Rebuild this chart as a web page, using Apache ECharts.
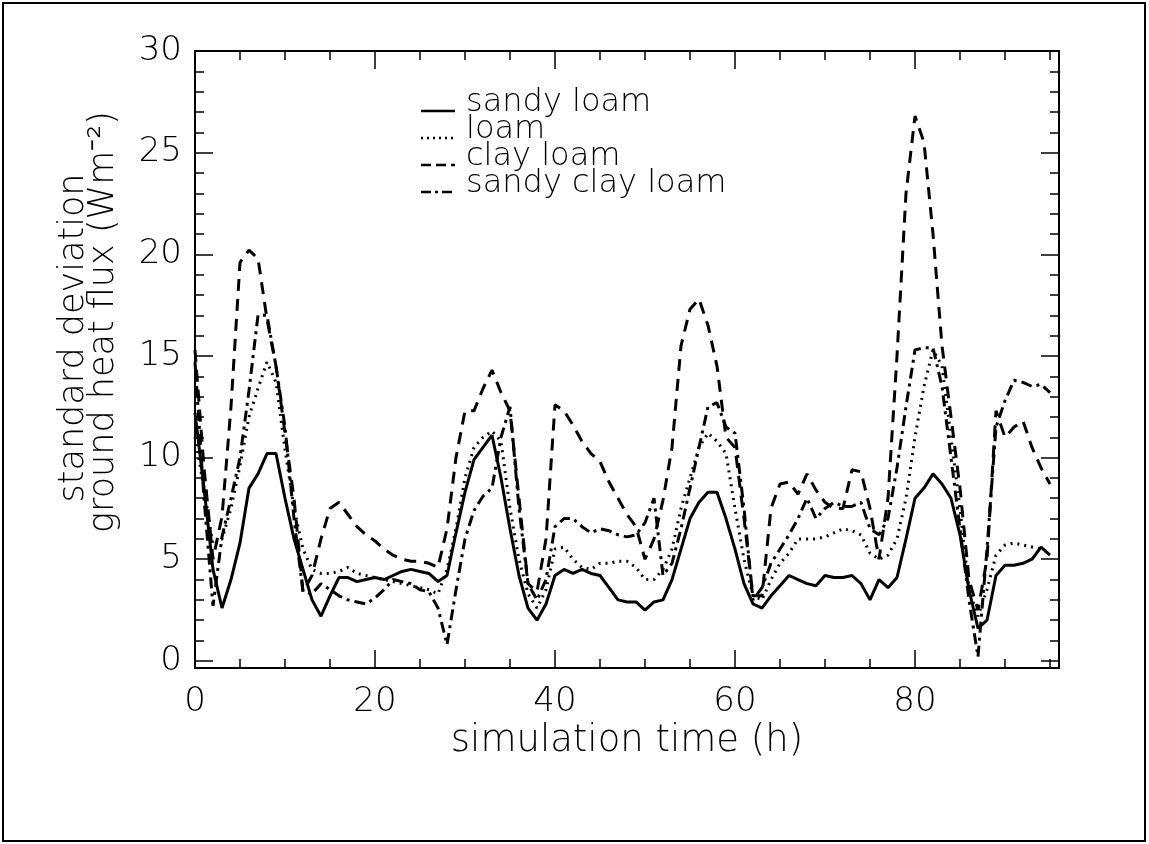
<!DOCTYPE html>
<html>
<head>
<meta charset="utf-8">
<script src="https://cdn.jsdelivr.net/npm/echarts@6/dist/echarts.min.js"></script>
<style>
  html, body { margin: 0; padding: 0; background: #fff; }
  #chart { width: 1149px; height: 844px; }
</style>
</head>
<body>
<div id="chart"></div>
<script>
// simulation time (h)
var hours = [0, 1, 2, 3, 4, 5, 6, 7, 8, 9, 10, 11, 12, 13, 14, 15, 16, 17, 18, 19,
  20, 21, 22, 23, 24, 25, 26, 27, 28, 29, 30, 31, 32, 33, 34, 35, 36, 37, 38, 39,
  40, 41, 42, 43, 44, 45, 46, 47, 48, 49, 50, 51, 52, 53, 54, 55, 56, 57, 58, 59,
  60, 61, 62, 63, 64, 65, 66, 67, 68, 69, 70, 71, 72, 73, 74, 75, 76, 77, 78, 79,
  80, 81, 82, 83, 84, 85, 86, 87, 88, 89, 90, 91, 92, 93, 94, 95];

// standard deviation of ground heat flux (W m-2)
var sandyLoam = [12.2, 8.5, 4.5, 2.6, 4.0, 5.8, 8.5, 9.2, 10.2, 10.2,
  8.0, 6.0, 4.5, 3.0, 2.2, 3.2, 4.1, 4.1, 3.9, 4.0,
  4.1, 4.0, 4.2, 4.4, 4.5, 4.4, 4.3, 3.9, 4.2, 6.3,
  8.3, 9.9, 10.5, 11.1, 9.0, 6.5, 4.2, 2.6, 2.0, 2.8,
  4.2, 4.5, 4.3, 4.5, 4.3, 4.2, 3.6, 3.0, 2.9, 2.9,
  2.5, 2.9, 3.0, 4.0, 5.5, 7.0, 7.8, 8.3, 8.3, 7.0,
  5.5, 3.8, 2.8, 2.6, 3.2, 3.7, 4.2, 4.0, 3.8, 3.7,
  4.2, 4.1, 4.1, 4.2, 3.8, 3.0, 4.0, 3.6, 4.1, 6.0,
  8.0, 8.5, 9.2, 8.7, 8.0, 6.2, 3.5, 1.6, 2.0, 4.2,
  4.7, 4.7, 4.8, 5.0, 5.6, 5.2];
var loam = [11.0, 8.5, 5.7, 6.0, 7.5, 9.6, 12.0, 13.4, 14.7, 13.7,
  10.4, 7.5, 5.5, 4.5, 4.3, 4.3, 4.4, 4.6, 4.3, 4.2,
  4.1, 4.0, 3.9, 3.8, 3.7, 3.6, 3.5, 3.3, 4.5, 6.5,
  9.0, 10.5, 11.0, 11.3, 10.8, 7.5, 5.0, 3.3, 2.6, 3.5,
  5.5, 5.6, 5.0, 4.6, 4.5, 4.8, 4.8, 4.9, 4.9, 4.6,
  4.0, 4.0, 4.5, 5.5, 7.5, 9.0, 10.5, 11.2, 10.8, 10.2,
  7.5, 5.0, 3.2, 3.0, 4.0, 4.8, 5.3, 6.0, 6.0, 6.0,
  6.1, 6.3, 6.5, 6.4, 6.2, 5.3, 5.0, 5.2, 6.0, 8.0,
  11.0, 13.5, 15.3, 14.5, 11.0, 7.5, 3.5, 2.2, 3.5, 5.2,
  5.7, 5.8, 5.7, 5.6, 5.5, 5.3];
var clayLoam = [15.3, 9.5, 5.0, 7.1, 12.5, 19.6, 20.2, 19.8, 16.8, 14.5,
  11.2, 8.0, 3.4, 4.2, 6.0, 7.5, 7.8, 7.2, 6.6, 6.2,
  5.9, 5.5, 5.2, 5.0, 4.9, 4.9, 4.8, 4.6, 6.5, 10.0,
  12.3, 12.3, 13.4, 14.3, 13.2, 12.3, 8.0, 3.8, 3.4, 6.0,
  12.6, 12.3, 11.6, 10.8, 10.2, 9.8, 8.8, 8.0, 7.2, 6.6,
  5.0, 6.0, 7.9, 10.5, 15.5, 17.3, 17.8, 16.5, 14.5, 11.0,
  10.5, 7.0, 3.2, 3.2, 7.5, 8.7, 8.8, 8.2, 9.2, 8.4,
  7.8, 7.5, 7.5, 9.4, 9.3, 7.5, 5.0, 8.0, 15.0, 23.0,
  26.8, 25.5, 21.0, 15.5, 12.0, 8.5, 4.0, 2.5, 5.0, 12.3,
  11.0, 11.5, 11.8, 10.5, 9.5, 8.7];
var sandyClayLoam = [14.7, 8.0, 2.7, 6.1, 8.0, 10.0, 13.3, 17.0, 17.0, 14.5,
  11.5, 7.0, 3.4, 3.3, 3.8, 3.5, 3.2, 3.0, 2.9, 2.8,
  3.1, 3.5, 4.0, 3.9, 3.8, 3.5, 3.4, 2.6, 0.8, 3.5,
  6.0, 7.4, 8.1, 8.5, 11.0, 12.5, 7.5, 3.8, 3.0, 4.0,
  6.6, 7.0, 7.0, 6.6, 6.3, 6.5, 6.4, 6.2, 6.1, 6.2,
  6.8, 8.0, 4.2, 4.8, 6.5, 8.5, 10.5, 12.5, 12.7, 11.5,
  11.2, 7.5, 3.0, 3.6, 4.8, 5.5, 6.2, 7.0, 8.0, 7.0,
  7.5, 7.8, 7.6, 7.6, 7.8, 6.5, 6.2, 7.0, 9.5, 12.5,
  15.3, 15.4, 15.4, 13.5, 10.0, 6.5, 3.0, 0.2, 5.5, 11.5,
  12.8, 13.8, 13.7, 13.5, 13.6, 13.2];

var seriesNames = ['sandy loam', 'loam', 'clay loam', 'sandy clay loam'];

// tick labels
var xMajorTicks = [0, 20, 40, 60, 80];
var xMinorTicks = [0, 5, 10, 15, 20, 25, 30, 35, 40, 45, 50, 55, 60, 65, 70, 75, 80, 85, 90, 95];
var yMajorTicks = [0, 5, 10, 15, 20, 25, 30];
var yMinorTicks = [0, 1, 2, 3, 4, 5, 6, 7, 8, 9, 10, 11, 12, 13, 14, 15,
  16, 17, 18, 19, 20, 21, 22, 23, 24, 25, 26, 27, 28, 29, 30];

var FONT = '"DejaVu Sans", "Liberation Sans", sans-serif';
var dashes = ['solid', [2, 5], [12, 8], [11, 5, 3, 5]];
var legendDashes = [null, [2, 4], [10, 5], [10, 4, 3, 4]];

function pairs(values) {
  var out = [];
  for (var i = 0; i < hours.length; i++) {
    out.push([hours[i], values[i]]);
  }
  return out;
}

function xAx(pos, ticks, len, showLine, showLabel) {
  return {
    type: 'value', position: pos, min: 0, max: 96,
    axisLine: { show: showLine, onZero: false, lineStyle: { color: '#000', width: 2 } },
    axisTick: { show: true, inside: true, length: len, customValues: ticks,
      lineStyle: { color: '#000', width: 1.5 } },
    axisLabel: { show: showLabel, customValues: ticks, margin: 17,
      fontSize: 34, fontFamily: FONT, fontWeight: 200, color: '#000' },
    splitLine: { show: false }
  };
}

function yAx(pos, ticks, len, showLine, showLabel) {
  return {
    type: 'value', position: pos, min: -0.35, max: 30,
    axisLine: { show: showLine, onZero: false, lineStyle: { color: '#000', width: 2 } },
    axisTick: { show: true, inside: true, length: len, customValues: ticks,
      lineStyle: { color: '#000', width: 1.5 } },
    axisLabel: { show: showLabel, customValues: ticks, margin: 13,
      fontSize: 34, fontFamily: FONT, fontWeight: 200, color: '#000' },
    splitLine: { show: false }
  };
}

var chart = echarts.init(document.getElementById('chart'), null, { renderer: 'canvas' });

var series = [sandyLoam, loam, clayLoam, sandyClayLoam].map(function (vals, i) {
  return {
    name: seriesNames[i],
    type: 'line',
    xAxisIndex: 0,
    yAxisIndex: 0,
    data: pairs(vals),
    showSymbol: false,
    symbol: 'none',
    lineStyle: { color: '#000', width: 3, type: dashes[i] },
    z: 3
  };
});

// legend drawn by hand: short line sample + label
var legendGraphics = [];
var legendTop = 111;
for (var i = 0; i < seriesNames.length; i++) {
  var yb = legendTop + i * 27;
  legendGraphics.push({
    type: 'line',
    shape: { x1: 421, y1: yb, x2: 455, y2: yb },
    style: { stroke: '#000', lineWidth: 2.6, lineDash: legendDashes[i] }
  });
  legendGraphics.push({
    type: 'text',
    x: 466, y: yb + 8,
    style: { text: seriesNames[i], fill: '#000', fontSize: 32, fontFamily: FONT, fontWeight: 200,
      align: 'left', textAlign: 'left', verticalAlign: 'bottom', textVerticalAlign: 'bottom' }
  });
}

var option = {
  animation: false,
  backgroundColor: '#fff',
  grid: { left: 195, right: 90, top: 51, bottom: 176, containLabel: false },
  xAxis: [
    xAx('bottom', xMajorTicks, 18, true, true),
    xAx('bottom', xMinorTicks, 9, false, false),
    xAx('top', xMajorTicks, 18, true, false),
    xAx('top', xMinorTicks, 9, false, false)
  ],
  yAxis: [
    yAx('left', yMajorTicks, 18, true, true),
    yAx('left', yMinorTicks, 9, false, false),
    yAx('right', yMajorTicks, 18, true, false),
    yAx('right', yMinorTicks, 9, false, false)
  ],
  series: series,
  graphic: legendGraphics.concat([
    {
      type: 'rect',
      shape: { x: 3, y: 3, width: 1142, height: 838 },
      style: { fill: null, stroke: '#000', lineWidth: 2 },
      silent: true
    },
    {
      type: 'text',
      x: 627, y: 741,
      style: { text: 'simulation time (h)', fill: '#000', fontSize: 37, fontFamily: FONT, fontWeight: 200,
        align: 'center', textAlign: 'center', verticalAlign: 'middle', textVerticalAlign: 'middle' }
    },
    {
      type: 'text',
      x: 74, y: 338, rotation: Math.PI / 2,
      style: { text: 'standard deviation', fill: '#000', fontSize: 35, fontFamily: FONT, fontWeight: 200,
        align: 'center', textAlign: 'center', verticalAlign: 'middle', textVerticalAlign: 'middle' }
    },
    {
      type: 'text',
      x: 104, y: 322, rotation: Math.PI / 2,
      style: { text: 'ground heat flux (Wm\u207B\u00B2)', fill: '#000', fontSize: 35, fontFamily: FONT, fontWeight: 200,
        align: 'center', textAlign: 'center', verticalAlign: 'middle', textVerticalAlign: 'middle' }
    }
  ])
};

chart.setOption(option);
</script>
</body>
</html>
